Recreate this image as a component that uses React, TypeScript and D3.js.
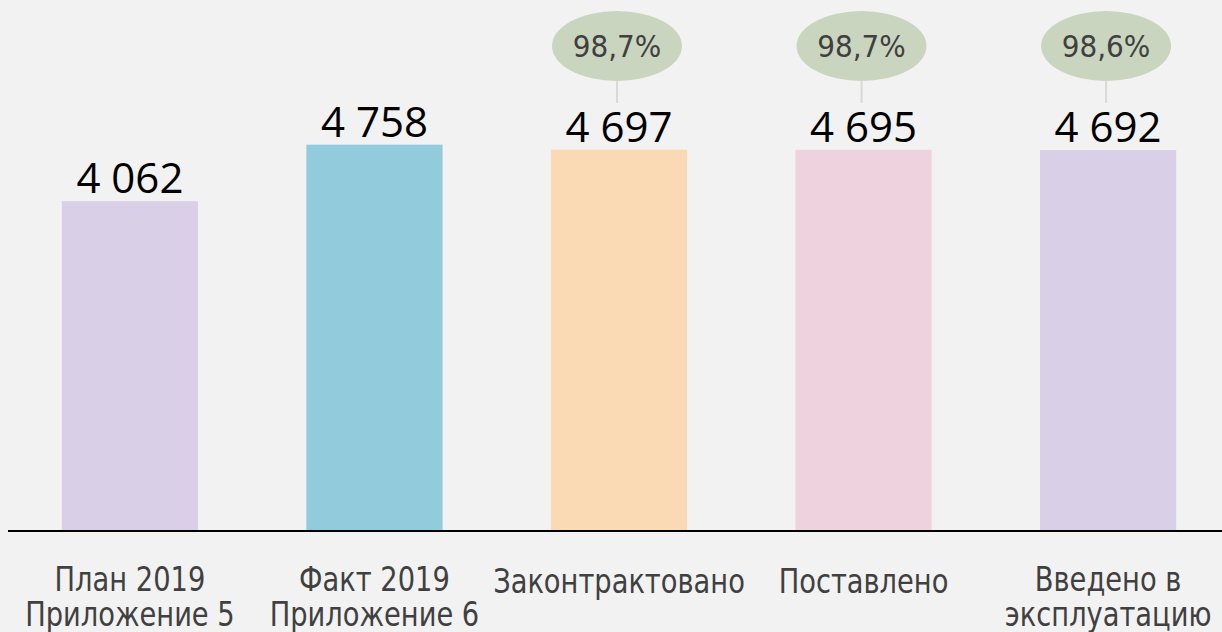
import React from "react";
import * as d3 from "d3";

const categories: string[][] = [
  ["План 2019", "Приложение 5"],
  ["Факт 2019", "Приложение 6"],
  ["Законтрактовано"],
  ["Поставлено"],
  ["Введено в", "эксплуатацию"],
];
const values: number[] = [4062, 4758, 4697, 4695, 4692];
const valueLabels: string[] = ["4 062", "4 758", "4 697", "4 695", "4 692"];
const colors: string[] = ["#d9cfe6", "#92ccdc", "#fad9b5", "#eed3de", "#d9cfe6"];
const shares: (string | null)[] = [null, null, "98,7%", "98,7%", "98,6%"];

const W = 1222;
const H = 632;

export default function App() {
  const x = d3
    .scaleBand<number>()
    .domain(values.map((_, i) => i))
    .range([8, 1230])
    .paddingInner(0.443)
    .paddingOuter(0.22);
  const y = d3.scaleLinear().domain([0, 6540]).range([531, 0]);
  const base = y(0);

  return (
    <svg
      width={W}
      height={H}
      style={{ position: "absolute", left: 0, top: 0, background: "#f2f2f2" }}
    >
      <rect x={0} y={0} width={W} height={H} fill="#f2f2f2" />
      {values.map((v, i) => {
        const bx = x(i)!;
        const bw = x.bandwidth();
        const cx = bx + bw / 2;
        return (
          <g key={i}>
            <rect x={bx} y={y(v)} width={bw} height={base - y(v)} fill={colors[i]} />
            <text
              x={cx}
              y={y(v) - 8}
              textAnchor="middle"
              fontFamily="'Open Sans', sans-serif"
              fontSize={42}
              fill="#000"
            >
              {valueLabels[i]}
            </text>
            {shares[i] && (
              <g>
                <line x1={cx - 2} x2={cx - 2} y1={81} y2={103} stroke="#d9d9d9" strokeWidth={2} />
                <ellipse cx={cx - 2} cy={46} rx={65} ry={35} fill="#cad5bf" />
                <text
                  x={cx - 2}
                  y={57}
                  textAnchor="middle"
                  fontFamily="'DejaVu Sans Condensed', 'DejaVu Sans', sans-serif"
                  fontSize={31}
                  fill="#404040"
                >
                  {shares[i]}
                </text>
              </g>
            )}
            <g transform={`translate(${cx},0) scale(0.92,1)`}>
              <text
                textAnchor="middle"
                fontFamily="'DejaVu Sans Condensed', 'DejaVu Sans', sans-serif"
                fontSize={33}
                fill="#404040"
              >
                {categories[i].map((line, j) => (
                  <tspan key={j} x={0} y={categories[i].length === 1 ? 593 : 591 + j * 35}>
                    {line}
                  </tspan>
                ))}
              </text>
            </g>
          </g>
        );
      })}
      <line x1={8} x2={W} y1={base} y2={base} stroke="#000" strokeWidth={2} />
    </svg>
  );
}
